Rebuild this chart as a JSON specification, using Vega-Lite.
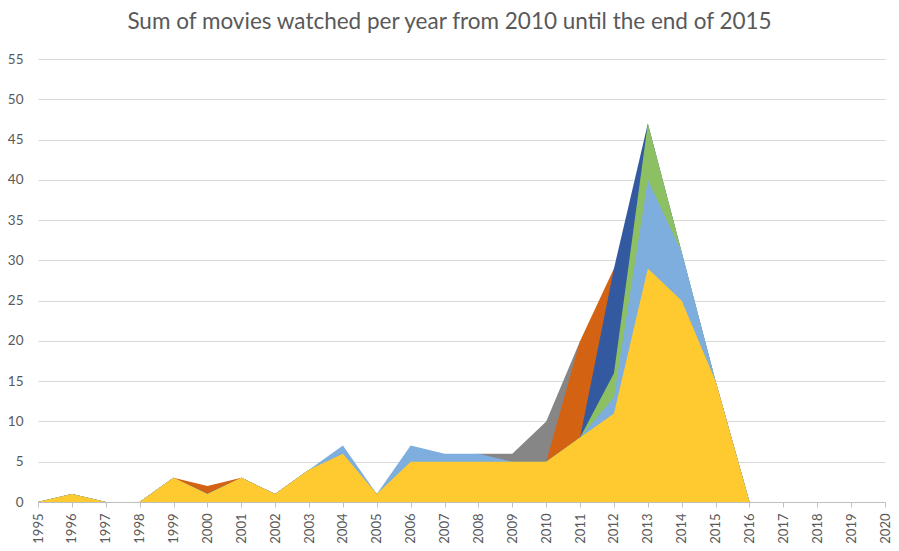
{
  "$schema": "https://vega.github.io/schema/vega-lite/v6.json",
  "width": 847,
  "height": 443,
  "autosize": {"type": "none"},
  "padding": {"left": 38, "top": 59, "right": 14, "bottom": 49},
  "background": "white",
  "title": {
    "text": "Sum of movies watched per year from 2010 until the end of 2015",
    "font": "Lato",
    "fontSize": 22.5,
    "fontWeight": "normal",
    "color": "#595959",
    "anchor": "middle",
    "dx": -12,
    "offset": 19
  },
  "data": {
    "values": [
      {"year": 1995, "Series 1": 0, "Series 2": 0, "Series 3": 0, "Series 4": 0, "Series 5": 0, "Series 6": 0},
      {"year": 1996, "Series 1": 1, "Series 2": 1, "Series 3": 1, "Series 4": 1, "Series 5": 1, "Series 6": 1},
      {"year": 1997, "Series 1": 0, "Series 2": 0, "Series 3": 0, "Series 4": 0, "Series 5": 0, "Series 6": 0},
      {"year": 1998, "Series 1": 0, "Series 2": 0, "Series 3": 0, "Series 4": 0, "Series 5": 0, "Series 6": 0},
      {"year": 1999, "Series 1": 3, "Series 2": 3, "Series 3": 3, "Series 4": 3, "Series 5": 3, "Series 6": 3},
      {"year": 2000, "Series 1": 1, "Series 2": 2, "Series 3": 1, "Series 4": 1, "Series 5": 1, "Series 6": 1},
      {"year": 2001, "Series 1": 3, "Series 2": 3, "Series 3": 3, "Series 4": 3, "Series 5": 3, "Series 6": 3},
      {"year": 2002, "Series 1": 1, "Series 2": 1, "Series 3": 1, "Series 4": 1, "Series 5": 1, "Series 6": 1},
      {"year": 2003, "Series 1": 4, "Series 2": 4, "Series 3": 4, "Series 4": 4, "Series 5": 4, "Series 6": 4},
      {"year": 2004, "Series 1": 6, "Series 2": 6, "Series 3": 6, "Series 4": 6, "Series 5": 7, "Series 6": 6},
      {"year": 2005, "Series 1": 1, "Series 2": 1, "Series 3": 1, "Series 4": 1, "Series 5": 1, "Series 6": 1},
      {"year": 2006, "Series 1": 5, "Series 2": 5, "Series 3": 5, "Series 4": 5, "Series 5": 7, "Series 6": 5},
      {"year": 2007, "Series 1": 5, "Series 2": 5, "Series 3": 5, "Series 4": 5, "Series 5": 6, "Series 6": 5},
      {"year": 2008, "Series 1": 6, "Series 2": 5, "Series 3": 5, "Series 4": 5, "Series 5": 6, "Series 6": 5},
      {"year": 2009, "Series 1": 6, "Series 2": 5, "Series 3": 5, "Series 4": 5, "Series 5": 5, "Series 6": 5},
      {"year": 2010, "Series 1": 10, "Series 2": 5, "Series 3": 5, "Series 4": 5, "Series 5": 5, "Series 6": 5},
      {"year": 2011, "Series 1": 20, "Series 2": 20, "Series 3": 8, "Series 4": 8, "Series 5": 8, "Series 6": 8},
      {"year": 2012, "Series 1": 11, "Series 2": 29, "Series 3": 29, "Series 4": 16, "Series 5": 13, "Series 6": 11},
      {"year": 2013, "Series 1": 29, "Series 2": 29, "Series 3": 47, "Series 4": 47, "Series 5": 40, "Series 6": 29},
      {"year": 2014, "Series 1": 25, "Series 2": 25, "Series 3": 31, "Series 4": 31, "Series 5": 31, "Series 6": 25},
      {"year": 2015, "Series 1": 15, "Series 2": 15, "Series 3": 15, "Series 4": 15, "Series 5": 15, "Series 6": 15},
      {"year": 2016, "Series 1": 0, "Series 2": 0, "Series 3": 0, "Series 4": 0, "Series 5": 0, "Series 6": 0},
      {"year": 2017, "Series 1": 0, "Series 2": 0, "Series 3": 0, "Series 4": 0, "Series 5": 0, "Series 6": 0},
      {"year": 2018, "Series 1": 0, "Series 2": 0, "Series 3": 0, "Series 4": 0, "Series 5": 0, "Series 6": 0},
      {"year": 2019, "Series 1": 0, "Series 2": 0, "Series 3": 0, "Series 4": 0, "Series 5": 0, "Series 6": 0},
      {"year": 2020, "Series 1": 0, "Series 2": 0, "Series 3": 0, "Series 4": 0, "Series 5": 0, "Series 6": 0}
    ]
  },
  "transform": [
    {"fold": ["Series 1", "Series 2", "Series 3", "Series 4", "Series 5", "Series 6"], "as": ["series", "movies"]}
  ],
  "mark": {"type": "area", "interpolate": "linear", "opacity": 1},
  "encoding": {
    "x": {
      "field": "year",
      "type": "quantitative",
      "scale": {"domain": [1995, 2020], "nice": false, "zero": false},
      "axis": {
        "title": null,
        "values": [1995,1996,1997,1998,1999,2000,2001,2002,2003,2004,2005,2006,2007,2008,2009,2010,2011,2012,2013,2014,2015,2016,2017,2018,2019,2020],
        "format": "d",
        "labelAngle": -90,
        "labelAlign": "right",
        "labelBaseline": "middle",
        "labelFont": "Lato",
        "labelFontSize": 13,
        "labelColor": "#595959",
        "labelPadding": 6,
        "labelOverlap": false,
        "labelFlush": false,
        "domainColor": "#bfbfbf",
        "tickColor": "#bfbfbf",
        "tickSize": 5,
        "grid": false
      }
    },
    "y": {
      "field": "movies",
      "type": "quantitative",
      "stack": null,
      "scale": {"domain": [0, 55], "nice": false},
      "axis": {
        "title": null,
        "values": [0,5,10,15,20,25,30,35,40,45,50,55],
        "labelFont": "Lato",
        "labelFontSize": 13.5,
        "labelColor": "#595959",
        "labelPadding": 15,
        "domain": false,
        "ticks": false,
        "grid": true,
        "gridColor": "#d9d9d9",
        "gridWidth": 1
      }
    },
    "color": {
      "field": "series",
      "type": "nominal",
      "scale": {
        "domain": ["Series 1", "Series 2", "Series 3", "Series 4", "Series 5", "Series 6"],
        "range": ["#868686", "#D36213", "#335AA0", "#8DC062", "#7DAEDE", "#FFCA30"]
      },
      "legend": null
    },
    "order": {"field": "series"}
  },
  "config": {"view": {"stroke": null}}
}
